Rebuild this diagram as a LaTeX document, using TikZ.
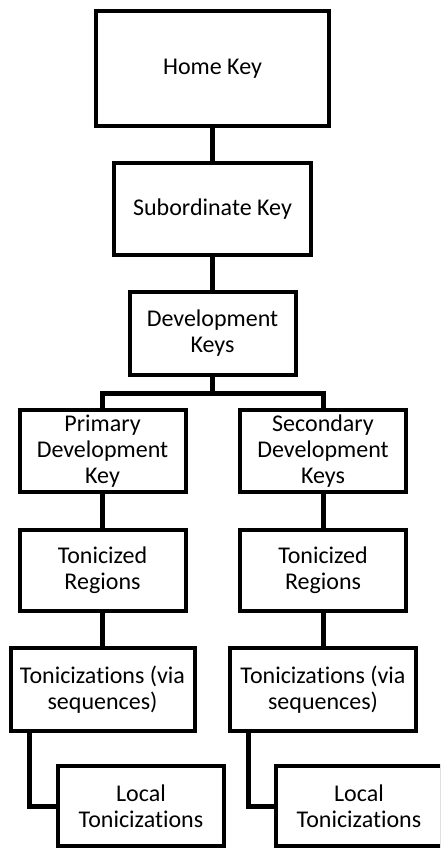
\documentclass[tikz,border=0pt]{standalone}
\usepackage{fontspec}
\setmainfont{Carlito}[Ligatures={NoCommon,NoRare}]
\usepackage{tikz}
\usetikzlibrary{calc}

\begin{document}
\begin{tikzpicture}[x=1pt,y=-1pt,
            keybox/.style={draw,rectangle,line width=4pt,align=center,inner sep=0pt,
                minimum width=\w,minimum height=\h,font=\fontsize{24}{26}\selectfont},
            link/.style={line width=5pt}]
            \def\w{166pt}%普通方框宽
            \def\h{82pt}%普通方框高
            \def\xl{102.5}%左列中心
            \def\xr{323}%右列中心
            \clip (0,0) rectangle (440,850); %画布范围, 右下方框被裁掉一部分
            %主干
            \node[keybox,minimum width=233pt,minimum height=115pt] (home) at (212.5,68.5) {Home Key};
            \node[keybox,minimum width=197pt,minimum height=92pt] (sub) at (212.5,209) {Subordinate Key};
            \node[keybox,minimum height=83pt] (dev) at (212.5,333.5) {Development\\Keys};
            \draw[link] (home) -- (sub);
            \draw[link] (sub) -- (dev);
            %左右两列
            \node[keybox] (prim) at (\xl,451) {Primary\\Development\\Key};
            \node[keybox] (sec) at (\xr,451) {Secondary\\Development\\Keys};
            \node[keybox,minimum height=81pt] (reg1) at (\xl,570.5) {Tonicized\\Regions};
            \node[keybox,minimum height=81pt] (reg2) at (\xr,570.5) {Tonicized\\Regions};
            \node[keybox,minimum width=184pt,minimum height=83pt] (ton1) at (\xl,689.5) {Tonicizations (via\\sequences)};
            \node[keybox,minimum width=186pt,minimum height=83pt] (ton2) at (\xr,689.5) {Tonicizations (via\\sequences)};
            \node[keybox,minimum height=80pt] (loc1) at (141,806) {Local\\Tonicizations};
            \node[keybox,minimum height=80pt] (loc2) at (359,806) {Local\\Tonicizations};
            %分叉连线
            \draw[link] (dev.south) -- ++(0,16) -| (prim.north);
            \draw[link] (dev.south) -- ++(0,16) -| (sec.north);
            \draw[link] (prim) -- (reg1);
            \draw[link] (sec) -- (reg2);
            \draw[link] (reg1) -- (ton1.north -| reg1);
            \draw[link] (reg2) -- (ton2.north -| reg2);
            %折线连到局部调性
            \draw[link] ($(ton1.south west)+(21,0)$) |- (loc1.west);
            \draw[link] ($(ton2.south west)+(20,0)$) |- (loc2.west);
\end{tikzpicture}
\end{document}
